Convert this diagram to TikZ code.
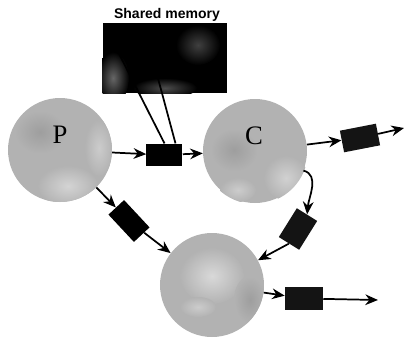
\documentclass[tikz,border=0pt]{standalone}
\usepackage{fontspec}
\setmainfont{Liberation Serif}
\newfontfamily\labelsans{Liberation Sans}
\usetikzlibrary{arrows.meta,calc}

\colorlet{disc}{black!30}
\tikzset{
  proc/.style={circle, fill=disc, minimum size=78pt, inner sep=0pt},
  plabel/.style={font=\fontsize{20}{20}\selectfont, inner sep=0pt},
  buf/.style={rectangle, fill=black, minimum width=27pt, minimum height=17pt, inner sep=0pt},
  bufgrain/.style={buf, fill=black!92},
  flow/.style={line width=1.3pt, -{Stealth[length=9.5pt,width=8pt]}},
  tap/.style={line width=1.3pt},
}

% smooth blotch fading into its surroundings: centre colour, edge colour, centre, x radius, y radius
\newcommand\blotch[5]{%
  \shade[inner color=#1, outer color=#2] #3 ellipse ({#4} and {#5});%
}

\begin{document}
\begin{tikzpicture}[x=0.75pt, y=-0.75pt]
  \useasboundingbox (0,0) rectangle (405,340);

  % shared memory block
  \node[rectangle, fill=black, minimum width=93pt, minimum height=52.5pt, inner sep=0pt]
        (mem) at (165,58) {};
  \begin{scope}
    \clip (mem.south west) rectangle (mem.north east);
    \blotch{black!60}{black}{(113,78)}{16}{26}
    \blotch{black!70}{black}{(165,88)}{32}{10}
    \blotch{black!75}{black}{(198,45)}{22}{20}
  \end{scope}
  \node[font=\labelsans\bfseries\fontsize{10.5}{12}\selectfont, anchor=base]
        (memlabel) at (167,18) {Shared memory};

  % processes
  \node[proc] (P) at (60,150) {};
  \node[proc] (C) at (255,151) {};
  \node[proc] (R) at (212,285) {};

  % mottled texture of the process discs
  \begin{scope}
    \clip (P) circle (52);
    \blotch{black!17}{disc}{(68,186)}{30}{20}
    \blotch{black!20}{disc}{(99,148)}{14}{28}
    \blotch{black!38}{disc}{(40,132)}{26}{22}
  \end{scope}
  \begin{scope}
    \clip (C) circle (53);
    \blotch{black!18}{disc}{(286,178)}{22}{22}
    \blotch{black!20}{disc}{(238,190)}{18}{12}
    \blotch{black!38}{disc}{(234,150)}{24}{22}
  \end{scope}
  \begin{scope}
    \clip (R) circle (52);
    \blotch{black!15}{disc}{(212,276)}{32}{28}
    \blotch{black!20}{disc}{(198,307)}{18}{10}
    \blotch{black!38}{disc}{(250,300)}{16}{24}
  \end{scope}

  \node[plabel] (Plabel) at (60,135) {P};
  \node[plabel] (Clabel) at (254,136) {C};

  % buffers
  \node[buf] (b1) at (164.5,155) {};
  \node[bufgrain, rotate=11, minimum width=27.5pt, minimum height=16.5pt] (b2) at (360,138) {};
  \node[bufgrain, rotate=58, minimum width=25.5pt, minimum height=18pt] (b3) at (298,229) {};
  \node[buf, rotate=-47, minimum width=28pt, minimum height=16pt] (b4) at (129,221) {};
  \node[bufgrain, minimum width=28.5pt, minimum height=17pt] (b5) at (304,298.5) {};

  % loose ends
  \coordinate (e2) at (404,128);
  \coordinate (e5) at (378,300);
  \coordinate (m1) at (107,30);
  \coordinate (m2) at (145,30);

  % taps from shared memory into the buffer
  \draw[tap] (m1) -- (b1.north);
  \draw[tap] (m2) -- ($(b1.north)+(11,0)$);

  % data flow
  \draw[flow] (P) -- (b1);
  \draw[flow] (b1) -- (C);
  \draw[flow] (C) -- (b2);
  \draw[flow] (b2) -- (e2);
  \draw[flow] (C.-22) to[out=-15, in=85] (b3.east);
  \draw[flow] (b3.west) -- (R);
  \draw[flow] (P) -- (b4);
  \draw[flow] (b4) -- (R);
  \draw[flow] (R) -- (b5);
  \draw[flow] (b5) -- (e5);
\end{tikzpicture}
\end{document}
